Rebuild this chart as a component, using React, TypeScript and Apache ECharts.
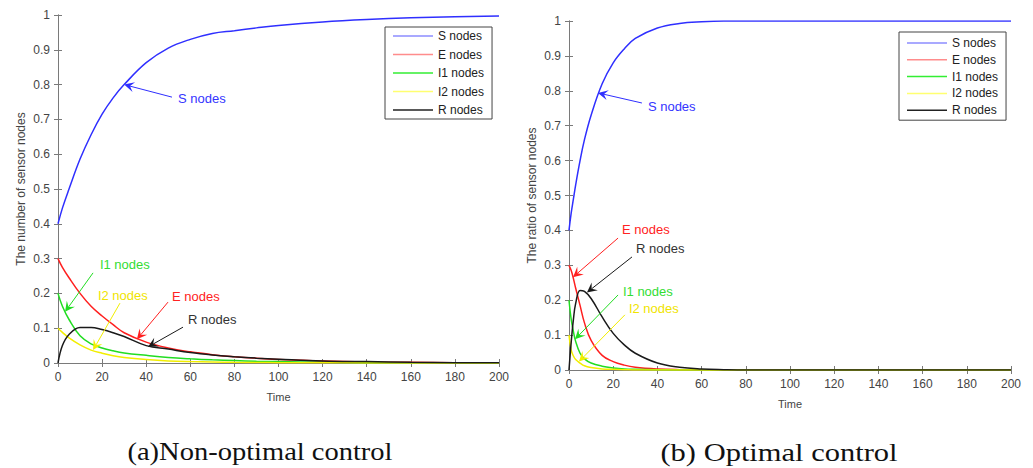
import React, { useEffect, useRef } from "react";
import * as echarts from "echarts";

// ---- Data: (a) Non-optimal control ----
const TL = [0, 2, 5, 10, 15, 20, 25, 30, 40, 50, 60, 70, 80, 90, 100, 120, 140, 160, 180, 200];
const S_L = [0.4, 0.445, 0.5, 0.586, 0.656, 0.715, 0.762, 0.8, 0.863, 0.905, 0.93, 0.947, 0.955, 0.963, 0.97, 0.98, 0.987, 0.992, 0.995, 0.997];
const E_L = [0.3, 0.275, 0.245, 0.2, 0.163, 0.135, 0.11, 0.087, 0.06, 0.043, 0.032, 0.024, 0.018, 0.014, 0.01, 0.006, 0.003, 0.002, 0.001, 0.0005];
const I1_L = [0.2, 0.163, 0.125, 0.078, 0.055, 0.043, 0.035, 0.029, 0.022, 0.016, 0.012, 0.009, 0.007, 0.005, 0.004, 0.002, 0.001, 0.0005, 0.0003, 0.0002];
const I2_L = [0.1, 0.088, 0.072, 0.052, 0.037, 0.028, 0.021, 0.016, 0.01, 0.006, 0.004, 0.003, 0.002, 0.0015, 0.001, 0.0005, 0.0003, 0.0002, 0.0001, 0];
const R_L = [0, 0.05, 0.082, 0.102, 0.102, 0.096, 0.087, 0.076, 0.05, 0.04, 0.03, 0.023, 0.018, 0.014, 0.011, 0.006, 0.004, 0.002, 0.001, 0.0005];

// ---- Data: (b) Optimal control ----
const TR = [0, 1, 2, 3, 5, 7, 10, 15, 20, 25, 30, 40, 50, 60, 70, 80, 100, 120, 140, 160, 180, 200];
const S_R = [0.4, 0.45, 0.49, 0.53, 0.6, 0.66, 0.73, 0.82, 0.88, 0.92, 0.95, 0.98, 0.993, 0.998, 1, 1, 1, 1, 1, 1, 1, 1];
const E_R = [0.3, 0.285, 0.262, 0.235, 0.185, 0.135, 0.085, 0.042, 0.024, 0.014, 0.008, 0.003, 0.001, 0.0005, 0, 0, 0, 0, 0, 0, 0, 0];
const I1_R = [0.2, 0.145, 0.11, 0.082, 0.048, 0.032, 0.02, 0.011, 0.006, 0.003, 0.002, 0.001, 0, 0, 0, 0, 0, 0, 0, 0, 0, 0];
const I2_R = [0.1, 0.057, 0.04, 0.03, 0.02, 0.012, 0.007, 0.003, 0.002, 0.001, 0, 0, 0, 0, 0, 0, 0, 0, 0, 0, 0, 0];
const R_R = [0, 0.08, 0.145, 0.19, 0.228, 0.225, 0.205, 0.152, 0.105, 0.072, 0.048, 0.02, 0.008, 0.003, 0.001, 0, 0, 0, 0, 0, 0, 0];

const NAMES = ["S nodes", "E nodes", "I1 nodes", "I2 nodes", "R nodes"];
const COLORS = ["#2f2fff", "#ff1f1f", "#22dd22", "#f2ee00", "#1a1a1a"];
const LEGEND_COLORS = ["#8c8cff", "#ff8c8c", "#33ee33", "#ffff70", "#222222"];
const TEXT_COLORS = ["#3535ff", "#ff2222", "#33dd33", "#f0e400", "#333333"];

const X_TICKS_MAX = 200;
const Y_TICKS_MAX = 1;

// annotations (data coords): text anchor, arrow tail, arrow tip
const ANN_L = [
  { i: 0, text: [54.4, 0.761], tail: [51.7, 0.764], tip: [30, 0.8] },
  { i: 2, text: [19, 0.282], tail: [15.9, 0.259], tip: [3.2, 0.147] },
  { i: 3, text: [18.1, 0.195], tail: [28.1, 0.172], tip: [15.9, 0.037] },
  { i: 1, text: [51.7, 0.19], tail: [49.9, 0.175], tip: [35.8, 0.068] },
  { i: 4, text: [59, 0.126], tail: [56.7, 0.103], tip: [40.8, 0.046] },
];
const ANN_R = [
  { i: 0, text: [35.7, 0.756], tail: [33, 0.765], tip: [13.1, 0.794] },
  { i: 1, text: [24, 0.404], tail: [22.2, 0.378], tip: [1.8, 0.266] },
  { i: 4, text: [30.3, 0.347], tail: [28.5, 0.324], tip: [8.1, 0.222] },
  { i: 2, text: [24.4, 0.226], tail: [22.2, 0.215], tip: [2.7, 0.088] },
  { i: 3, text: [27.1, 0.175], tail: [25.3, 0.158], tip: [4.5, 0.024] },
];

const pairs = (t: number[], v: number[]) => t.map((x, k) => [x, v[k]]);

const FONT = '"Liberation Sans", Arial, sans-serif';
const AX = "#7a7a7a";
const LBL = "#444";

function xAxes(grid: number, name: string) {
  return [
    {
      type: "value", gridIndex: grid, min: 0, max: X_TICKS_MAX, interval: 20, position: "bottom",
      name, nameLocation: "middle", nameGap: 28,
      nameTextStyle: { fontSize: 11, color: LBL, fontFamily: FONT },
      axisLine: { lineStyle: { color: AX } },
      axisTick: { inside: true, length: 4, lineStyle: { color: AX } },
      axisLabel: { fontSize: 12, color: LBL, fontFamily: FONT, margin: 8 },
      splitLine: { show: false },
    },
    {
      type: "value", gridIndex: grid, min: 0, max: X_TICKS_MAX, interval: 20, position: "top",
      axisLine: { lineStyle: { color: AX } },
      axisTick: { inside: true, length: 4, lineStyle: { color: AX } },
      axisLabel: { show: false },
      splitLine: { show: false },
    },
  ];
}
function yAxes(grid: number, name: string) {
  return [
    {
      type: "value", gridIndex: grid, min: 0, max: Y_TICKS_MAX, interval: 0.1, position: "left",
      name, nameLocation: "middle", nameGap: 31,
      nameTextStyle: { fontSize: 12, color: LBL, fontFamily: FONT },
      axisLine: { show: true, lineStyle: { color: AX } },
      axisTick: { show: true, inside: true, length: 4, lineStyle: { color: AX } },
      axisLabel: { fontSize: 12, color: LBL, fontFamily: FONT, margin: 8 },
      splitLine: { show: false },
    },
    {
      type: "value", gridIndex: grid, min: 0, max: Y_TICKS_MAX, interval: 0.1, position: "right",
      axisLine: { show: true, lineStyle: { color: AX } },
      axisTick: { show: true, inside: true, length: 4, lineStyle: { color: AX } },
      axisLabel: { show: false },
      splitLine: { show: false },
    },
  ];
}

function makeSeries(t: number[], vals: number[][], xi: number, yi: number) {
  return vals.map((v, k) => ({
    type: "line",
    name: NAMES[k],
    xAxisIndex: xi,
    yAxisIndex: yi,
    data: pairs(t, v),
    symbol: "none",
    smooth: 0.4,
    lineStyle: { width: 1.5, color: COLORS[k] },
    itemStyle: { color: COLORS[k] },
    z: k === 0 ? 3 : 2,
  }));
}

function legend(left: number, top: number, gap: number, padding: number[]) {
  return {
    left, top, orient: "vertical", selectedMode: false,
    data: NAMES.map((n, k) => ({ name: n, icon: "rect", itemStyle: { color: LEGEND_COLORS[k] } })),
    itemWidth: 40, itemHeight: 1.5, itemGap: gap,
    padding,
    borderColor: "#444", borderWidth: 1, backgroundColor: "#fff",
    textStyle: { fontSize: 12, color: "#222", fontFamily: FONT, lineHeight: 12 },
  };
}

export default function App() {
  const ref = useRef<HTMLDivElement>(null);
  useEffect(() => {
    if (!ref.current) return;
    const chart = echarts.init(ref.current, undefined, { renderer: "svg" });
    const option: any = {
      animation: false,
      backgroundColor: "#fff",
      grid: [
        { left: 58, right: 534, top: 15, bottom: 105 },
        { left: 569, right: 22, top: 21, bottom: 98 },
      ],
      xAxis: [...xAxes(0, "Time"), ...xAxes(1, "Time")],
      yAxis: [...yAxes(0, "The number of sensor nodes"), ...yAxes(1, "The ratio of sensor nodes")],
      legend: [legend(385, 27, 6.5, [3, 8, 3, 8]), legend(899, 32, 4.8, [5, 8, 4, 8])],
      series: [
        ...makeSeries(TL, [S_L, E_L, I1_L, I2_L, R_L], 0, 0),
        ...makeSeries(TR, [S_R, E_R, I1_R, I2_R, R_R], 2, 2),
      ],
    };
    chart.setOption(option);

    const graphics: any[] = [];
    const addAnn = (anns: any[], seriesIndex: number) => {
      anns.forEach((a) => {
        const p = (d: number[]) => chart.convertToPixel({ seriesIndex }, d) as number[];
        const tip = p(a.tip);
        const tail = p(a.tail);
        const tx = p(a.text);
        const col = TEXT_COLORS[a.i];
        const lineCol = COLORS[a.i];
        const dx = tip[0] - tail[0];
        const dy = tip[1] - tail[1];
        const len = Math.sqrt(dx * dx + dy * dy) || 1;
        const ux = dx / len, uy = dy / len;
        const nx = -uy, ny = ux;
        const L = 10, W = 5;
        const back = [tip[0] - ux * L, tip[1] - uy * L];
        const notch = [tip[0] - ux * L * 0.6, tip[1] - uy * L * 0.6];
        graphics.push({
          type: "line",
          shape: { x1: tail[0], y1: tail[1], x2: notch[0], y2: notch[1] },
          style: { stroke: lineCol, lineWidth: 1 },
          z: 10,
        });
        graphics.push({
          type: "polygon",
          shape: {
            points: [
              tip,
              [back[0] + nx * W, back[1] + ny * W],
              notch,
              [back[0] - nx * W, back[1] - ny * W],
            ],
          },
          style: { fill: lineCol },
          z: 10,
        });
        graphics.push({
          type: "text",
          x: tx[0],
          y: tx[1],
          style: {
            text: NAMES[a.i], fill: col, font: `13px ${FONT}`,
            align: "left", verticalAlign: "middle",
          },
          z: 10,
        });
      });
    };
    addAnn(ANN_L, 0);
    addAnn(ANN_R, 5);

    graphics.push({
      type: "text", x: 260, y: 452, scaleX: 1.14,
      style: {
        text: "(a)Non-optimal control", fill: "#111",
        font: '25px "Liberation Serif", "Times New Roman", serif',
        align: "center", verticalAlign: "middle",
      },
    });
    graphics.push({
      type: "text", x: 779, y: 452, scaleX: 1.22,
      style: {
        text: "(b) Optimal control", fill: "#111",
        font: '25px "Liberation Serif", "Times New Roman", serif',
        align: "center", verticalAlign: "middle",
      },
    });
    chart.setOption({ graphic: graphics });

    return () => chart.dispose();
  }, []);
  return (
    <div
      ref={ref}
      style={{ position: "fixed", left: 0, top: 0, width: 1033, height: 468 }}
    />
  );
}
